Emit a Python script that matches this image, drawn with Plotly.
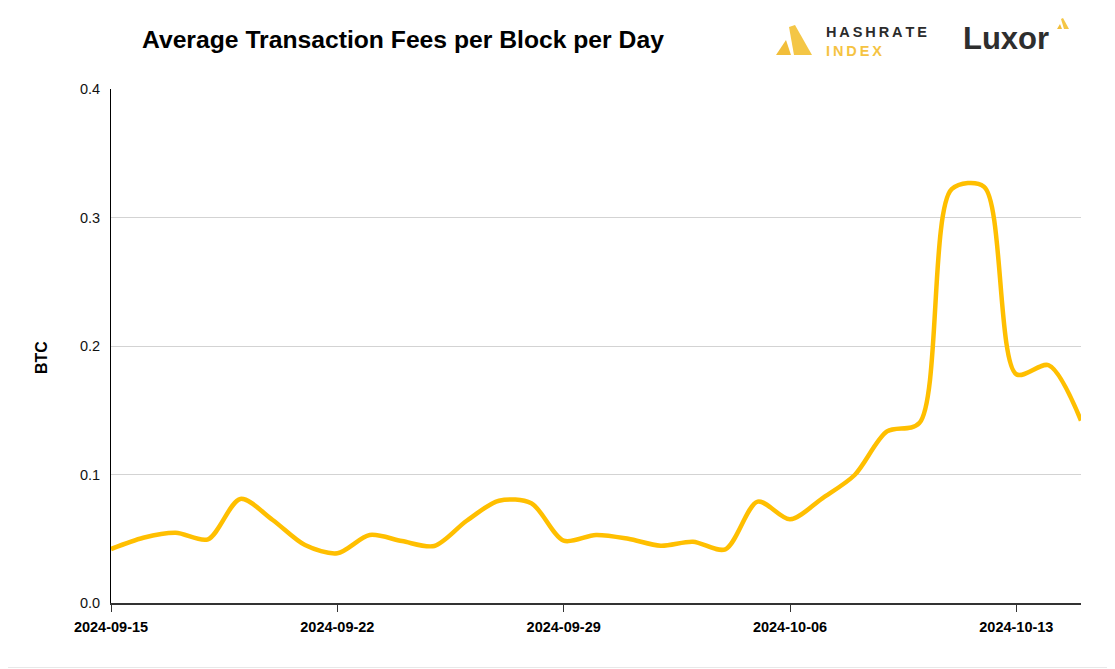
import plotly.graph_objects as go
import pandas as pd

# ---- data ----
dates = pd.date_range("2024-09-15", "2024-10-15", freq="D").strftime("%Y-%m-%d").tolist()
fees_btc = [0.0420, 0.0508, 0.0547, 0.0496, 0.0810, 0.0646, 0.0451, 0.0387, 0.0529, 0.0482,
            0.0444, 0.0640, 0.0796, 0.0776, 0.0485, 0.0530, 0.0500, 0.0446, 0.0477, 0.0418,
            0.0789, 0.0651, 0.0815, 0.0996, 0.1335, 0.1400, 0.3220, 0.3240, 0.1780, 0.1850,
            0.1420]
x_tick_vals = ["2024-09-15", "2024-09-22", "2024-09-29", "2024-10-06", "2024-10-13"]
x_tick_text = ["2024-09-15", "2024-09-22", "2024-09-29", "2024-10-06", "2024-10-13"]
y_tick_vals = [0.0, 0.1, 0.2, 0.3, 0.4]
y_tick_text = ["0.0", "0.1", "0.2", "0.3", "0.4"]
title_text = "Average Transaction Fees per Block per Day"
y_title = "BTC"

OFF = 8                      # default page margin of the html body
W, H = 1107, 661
L, R, T, B = 103, 34, 81, 66
PW, PH = W - L - R, H - T - B


def px(xs):
    """screen x -> paper x"""
    return (xs - OFF - L) / PW


def py(ys):
    """screen y -> paper y"""
    return (H - B - (ys - OFF)) / PH


FONT = "Arial, 'Liberation Sans', sans-serif"

fig = go.Figure()
fig.add_trace(go.Scatter(
    x=dates, y=fees_btc, mode="lines",
    line=dict(color="#FFBF00", width=4.5, shape="spline", smoothing=0.85),
    hoverinfo="x+y", showlegend=False,
))

fig.update_layout(
    width=W, height=H,
    margin=dict(l=L, r=R, t=T, b=B, pad=0),
    paper_bgcolor="white", plot_bgcolor="white",
    font=dict(family=FONT, color="#000"),
    xaxis=dict(
        type="date", range=[dates[0], dates[-1]],
        tickvals=x_tick_vals, ticktext=x_tick_text,
        ticks="outside", ticklen=7, tickwidth=1, tickcolor="#333",
        showline=True, linecolor="#333", linewidth=2,
        showgrid=False, zeroline=False,
        tickfont=dict(family=FONT, size=14.5, color="#000", weight="bold"),
        ticklabelstandoff=3,
    ),
    xaxis2=dict(
        type="date", overlaying="x", matches="x", range=[dates[0], dates[-1]],
        tickvals=x_tick_vals, ticks="inside", ticklen=7, tickwidth=1, tickcolor="#333",
        showticklabels=False, showline=False, showgrid=False, zeroline=False,
    ),
    yaxis=dict(
        range=[0, 0.4], tickvals=y_tick_vals, ticktext=y_tick_text,
        ticks="", showline=True, linecolor="#000", linewidth=1,
        showgrid=True, gridcolor="#d3d3d3", gridwidth=1, zeroline=False,
        tickfont=dict(family=FONT, size=14.5, color="#111"),
        ticklabelstandoff=7,
    ),
)

annotations = [
    dict(text="<b>" + title_text + "</b>", x=px(403), y=py(40), xref="paper", yref="paper",
         xanchor="center", yanchor="middle", showarrow=False,
         font=dict(family=FONT, size=24.7, color="#000")),
    dict(text="<b>" + y_title + "</b>", x=px(42), y=py(358), xref="paper", yref="paper",
         xanchor="center", yanchor="middle", showarrow=False, textangle=-90,
         font=dict(family=FONT, size=16, color="#000")),
    dict(text="<b>H\u2009A\u2009S\u2009H\u2009R\u2009A\u2009T\u2009E</b>", x=px(824), y=py(32),
         xref="paper", yref="paper", xanchor="left", yanchor="middle", showarrow=False,
         font=dict(family=FONT, size=14.5, color="#2b2b2b")),
    dict(text="<b>I\u2009N\u2009D\u2009E\u2009X</b>", x=px(824), y=py(51),
         xref="paper", yref="paper", xanchor="left", yanchor="middle", showarrow=False,
         font=dict(family=FONT, size=14.5, color="#F5C342")),
    dict(text="<b>Luxor</b>", x=px(1006), y=py(39), xref="paper", yref="paper",
         xanchor="center", yanchor="middle", showarrow=False,
         font=dict(family=FONT, size=31, color="#2e2e2e")),
]
fig.update_layout(annotations=annotations)


def poly(points, color):
    d = "M " + " L ".join(f"{px(a):.5f},{py(b):.5f}" for a, b in points) + " Z"
    return dict(type="path", path=d, xref="paper", yref="paper",
                fillcolor=color, line=dict(width=0), layer="above")


shapes = [
    # page frame (right and bottom edges)
    dict(type="line", xref="paper", yref="paper",
         x0=px(1114.5), x1=px(1114.5), y0=py(667.5), y1=py(OFF),
         line=dict(color="#e8e8e8", width=1)),
    dict(type="line", xref="paper", yref="paper",
         x0=px(OFF), x1=px(1114.5), y0=py(667.5), y1=py(667.5),
         line=dict(color="#e8e8e8", width=1)),
    # hashrate index icon
    poly([(776, 55), (786, 40), (791, 55)], "#F2BE3A"),
    poly([(789, 27), (795, 25), (812, 55), (794, 55)], "#F4C646"),
    # luxor icon
    poly([(1057, 29), (1060, 24), (1062, 29)], "#F2BE3A"),
    poly([(1061, 19), (1063, 18), (1069, 29), (1064, 29)], "#F4C646"),
]
fig.update_layout(shapes=shapes)

fig.write_html("out.html")
